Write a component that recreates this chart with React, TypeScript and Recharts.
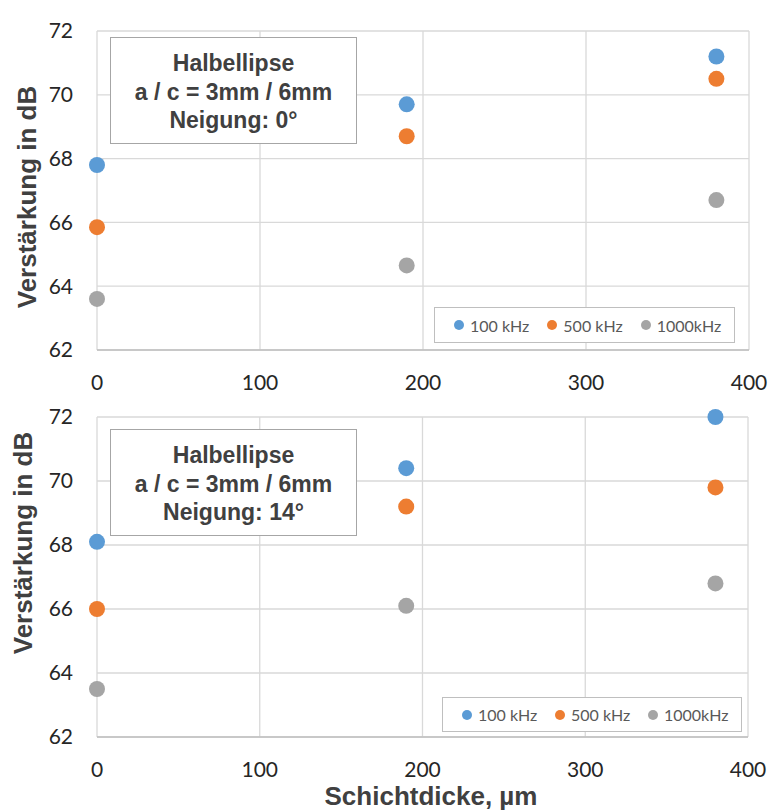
import { ScatterChart, Scatter, XAxis, YAxis, CartesianGrid, Legend } from 'recharts';

// Schichtdicke in µm
const thickness = [0, 190, 380];
const xTicks = [0, 100, 200, 300, 400];
const yTicks = [62, 64, 66, 68, 70, 72];
const seriesNames = ['100 kHz', '500 kHz', '1000kHz'];

// Neigung 0°
const tilt0_100k = [67.8, 69.7, 71.2];
const tilt0_500k = [65.85, 68.7, 70.5];
const tilt0_1000k = [63.6, 64.65, 66.7];

// Neigung 14°
const tilt14_100k = [68.1, 70.4, 72.0];
const tilt14_500k = [66.0, 69.2, 69.8];
const tilt14_1000k = [63.5, 66.1, 66.8];

const colors = ['#5B9BD5', '#ED7D31', '#A5A5A5'];

const toPoints = (values: number[]) => thickness.map((x, i) => ({ x, y: values[i] }));

const tickStyle = { fontFamily: 'Lato, sans-serif', fontSize: 21, fill: '#262626' };
const titleFont = '"Liberation Sans", Arial, sans-serif';

const Dot = (props: any) => <circle cx={props.cx} cy={props.cy} r={8} fill={props.fill} />;

const YTitle = ({ titleX, titleY }: { titleX: number; titleY: number }) => (
  <text
    x={titleX}
    y={titleY}
    transform={`rotate(-90 ${titleX} ${titleY})`}
    textAnchor="middle"
    dominantBaseline="central"
    style={{ fontFamily: titleFont, fontWeight: 700, fontSize: 26, fill: '#404040' }}
  >
    Verstärkung in dB
  </text>
);

const XTitle = ({ titleX, titleY }: { titleX: number; titleY: number }) => (
  <text
    x={titleX}
    y={titleY}
    textAnchor="middle"
    style={{ fontFamily: titleFont, fontWeight: 700, fontSize: 26, fill: '#404040' }}
  >
    Schichtdicke, µm
  </text>
);

const LegendContent = ({ payload }: any) => {
  const items = [...(payload || [])].sort(
    (a: any, b: any) => seriesNames.indexOf(a.value) - seriesNames.indexOf(b.value)
  );
  return (
    <div style={{ display: 'flex', alignItems: 'center', height: '100%', paddingLeft: 19 }}>
      {items.map((p: any) => (
        <div key={p.value} style={{ display: 'flex', alignItems: 'center', width: 94 }}>
          <span style={{ width: 10, height: 10, borderRadius: '50%', background: p.color, marginRight: 6 }} />
          <span style={{ fontFamily: 'Lato, sans-serif', fontSize: 16, color: '#595959' }}>{p.value}</span>
        </div>
      ))}
    </div>
  );
};

interface PanelProps {
  values: number[][];
  tilt: string;
  top: number;
  height: number;
  marginTop: number;
  marginRight: number;
  xAxisHeight: number;
  yTitle: { x: number; y: number };
  box: { left: number; top: number };
  legend: { left: number; top: number; width: number; height: number };
  xTitle?: { x: number; y: number };
}

function Panel({ values, tilt, top, height, marginTop, marginRight, xAxisHeight, yTitle, box, legend, xTitle }: PanelProps) {
  return (
    <div style={{ position: 'absolute', left: 0, top, width: 770, height }}>
      <ScatterChart width={770} height={height} margin={{ top: marginTop, right: marginRight, bottom: 0, left: 0 }}>
        <CartesianGrid stroke="#d9d9d9" strokeWidth={1.3} />
        <XAxis
          type="number"
          dataKey="x"
          domain={[0, 400]}
          ticks={xTicks}
          height={xAxisHeight}
          tickSize={0}
          tickMargin={25}
          axisLine={{ stroke: '#bfbfbf', strokeWidth: 1.3 }}
          tick={tickStyle}
          label={xTitle ? <XTitle titleX={xTitle.x} titleY={xTitle.y} /> : undefined}
        />
        <YAxis
          type="number"
          dataKey="y"
          domain={[62, 72]}
          ticks={yTicks}
          width={97}
          tickSize={0}
          tickMargin={24}
          axisLine={false}
          tick={tickStyle}
          label={<YTitle titleX={yTitle.x} titleY={yTitle.y} />}
        />
        <Legend
          layout="horizontal"
          verticalAlign="middle"
          content={<LegendContent />}
          wrapperStyle={{
            left: legend.left,
            top: legend.top,
            width: legend.width,
            height: legend.height,
            border: '1px solid #bfbfbf',
            background: '#fff',
            boxSizing: 'border-box',
          }}
        />
        {values.map((v, i) => (
          <Scatter
            key={seriesNames[i]}
            name={seriesNames[i]}
            data={toPoints(v)}
            fill={colors[i]}
            shape={<Dot />}
            isAnimationActive={false}
          />
        ))}
      </ScatterChart>
      <div
        style={{
          position: 'absolute',
          left: box.left,
          top: box.top,
          width: 247,
          height: 107,
          boxSizing: 'border-box',
          border: '1.5px solid #a6a6a6',
          background: '#fff',
          paddingTop: 11,
          textAlign: 'center',
          fontFamily: titleFont,
          fontWeight: 700,
          fontSize: 23,
          lineHeight: '28.5px',
          color: '#404040',
        }}
      >
        <div>Halbellipse</div>
        <div>a / c = 3mm / 6mm</div>
        <div>Neigung: {tilt}</div>
      </div>
    </div>
  );
}

export default function App() {
  return (
    <div style={{ position: 'absolute', left: 0, top: 0, width: 770, height: 812, background: '#fff' }}>
      <Panel
        values={[tilt0_100k, tilt0_500k, tilt0_1000k]}
        tilt="0°"
        top={0}
        height={395}
        marginTop={31}
        marginRight={21}
        xAxisHeight={45}
        yTitle={{ x: 27, y: 197 }}
        box={{ left: 110, top: 37 }}
        legend={{ left: 434, top: 307, width: 301, height: 36 }}
      />
      <Panel
        values={[tilt14_100k, tilt14_500k, tilt14_1000k]}
        tilt="14°"
        top={390}
        height={422}
        marginTop={27}
        marginRight={22}
        xAxisHeight={75}
        yTitle={{ x: 23, y: 153 }}
        box={{ left: 110, top: 39 }}
        legend={{ left: 442, top: 307, width: 300, height: 35 }}
        xTitle={{ x: 431, y: 415 }}
      />
    </div>
  );
}
